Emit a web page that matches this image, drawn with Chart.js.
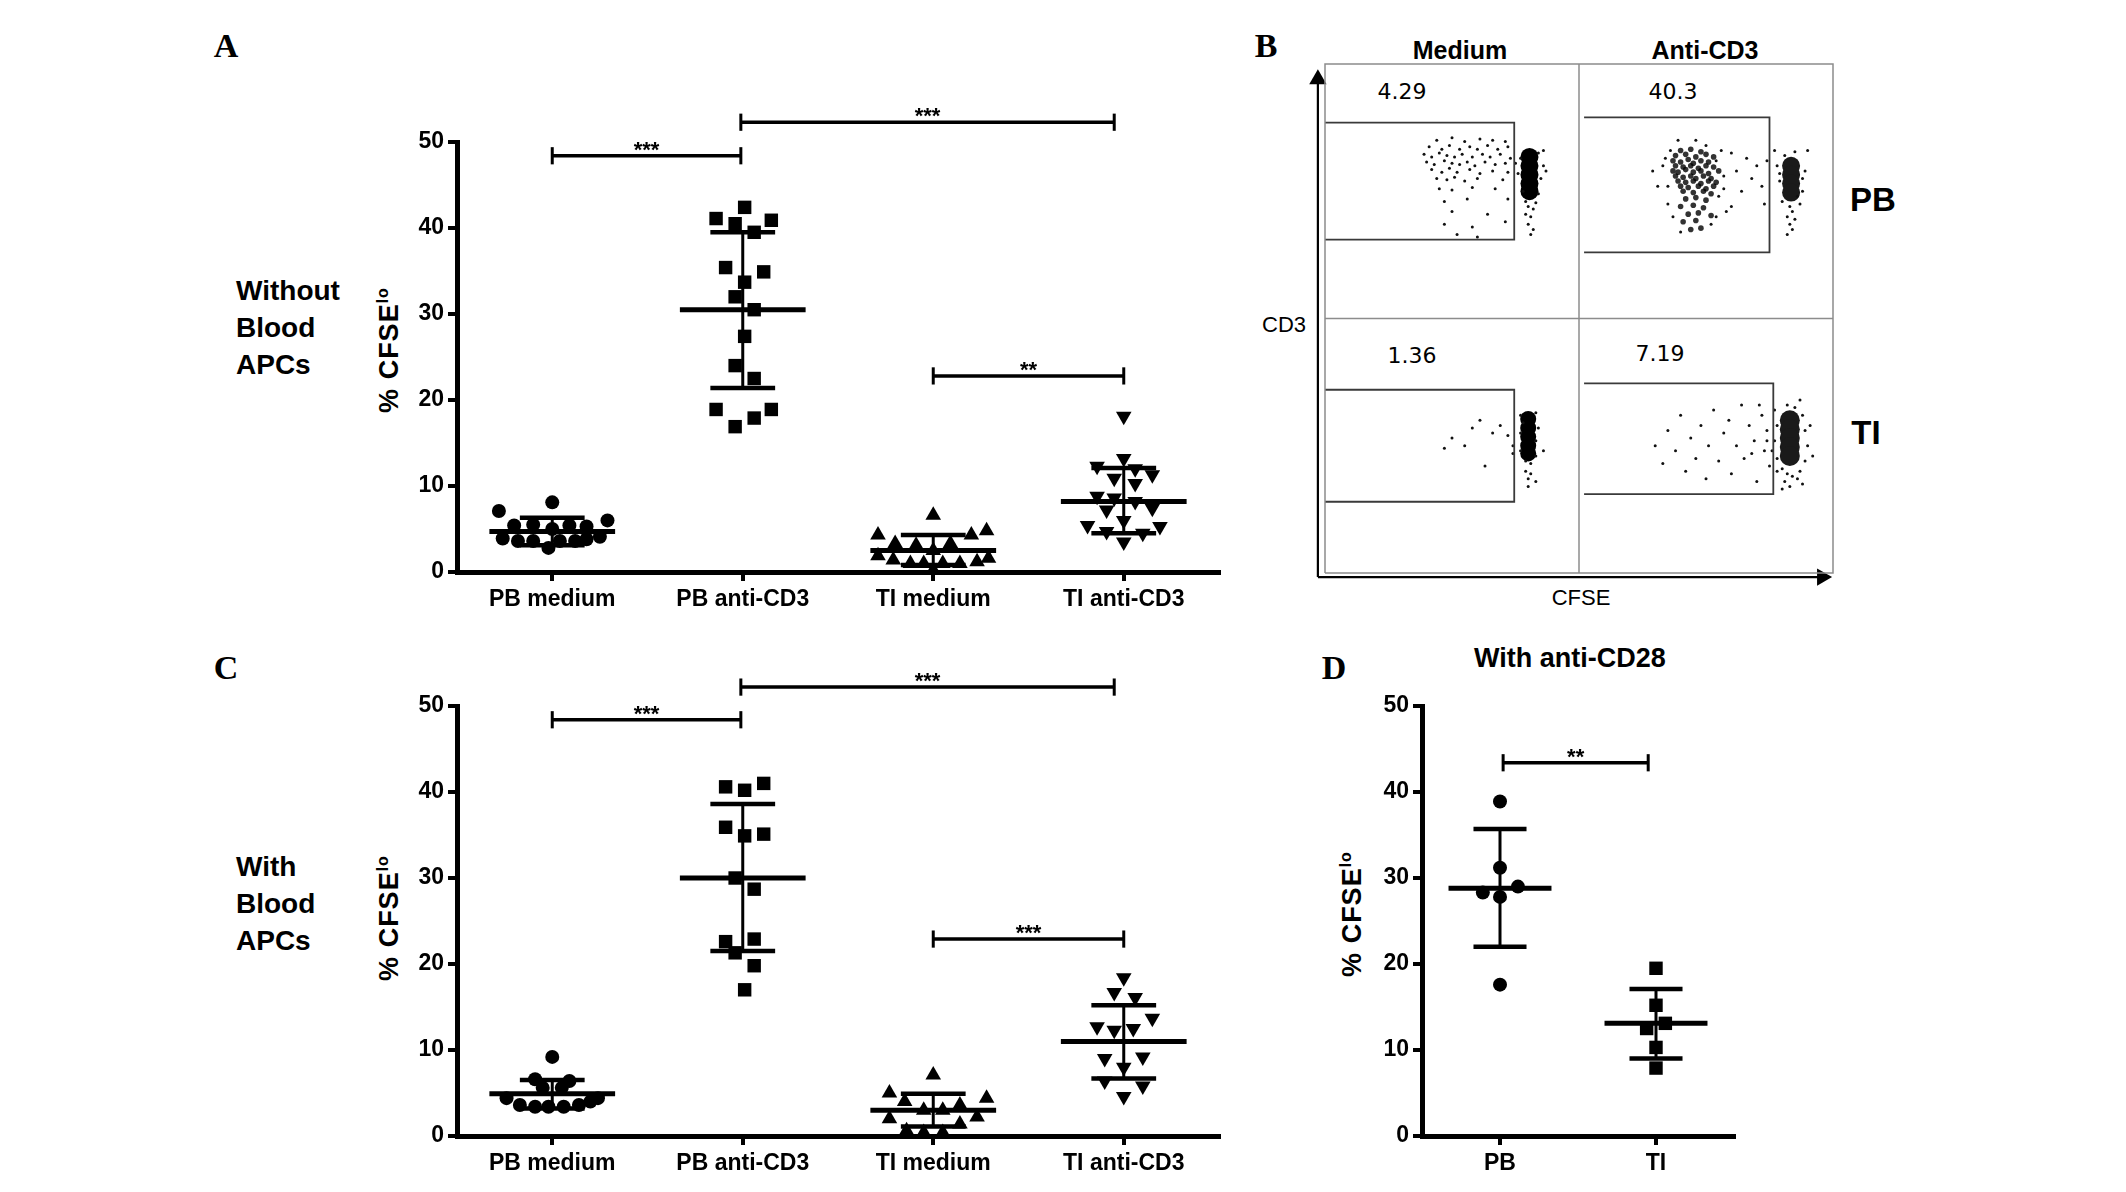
<!DOCTYPE html>
<html lang="en">
<head>
<meta charset="UTF-8">
<title>CFSE proliferation</title>
<script src="https://cdn.jsdelivr.net/npm/chart.js"></script>
<style>
  body { margin:0; width:2126px; height:1192px; overflow:hidden; background:#fff; position:relative;
         font-family:"Liberation Sans", Arial, sans-serif; color:#000; }
  canvas { position:absolute; }
  .t { position:absolute; transform:translate(-50%,-50%); white-space:nowrap; }
  .panel { font-family:"Liberation Serif", "Times New Roman", serif; font-weight:bold; font-size:34px; }
  .cond { position:absolute; font-weight:bold; font-size:28px; line-height:37px; }
  .ytitle { position:absolute; white-space:nowrap; font-weight:bold; font-size:27px; letter-spacing:1px;
            transform:translate(-50%,-50%) rotate(-90deg); }
  .ytitle sup { font-size:16px; }
  .head { font-weight:bold; font-size:25px; }
  .row { font-weight:bold; font-size:33px; }
  .flow { font-family:"DejaVu Sans", sans-serif; font-size:22px; }
  .axl { font-size:22px; }
</style>
</head>
<body>
<div class="t panel" style="left:226px;top:46px">A</div>
<div class="t panel" style="left:1266px;top:46px">B</div>
<div class="t panel" style="left:226px;top:668px">C</div>
<div class="t panel" style="left:1334px;top:668px">D</div>

<div class="cond" style="left:236px;top:272px">Without<br>Blood<br>APCs</div>
<div class="cond" style="left:236px;top:848px">With<br>Blood<br>APCs</div>

<div class="ytitle" style="left:389px;top:350px">% CFSE<sup>lo</sup></div>
<div class="ytitle" style="left:389px;top:918px">% CFSE<sup>lo</sup></div>
<div class="ytitle" style="left:1352px;top:914px">% CFSE<sup>lo</sup></div>

<div class="t head" style="left:1570px;top:658px;font-size:27px">With anti-CD28</div>

<div class="t head" style="left:1460px;top:50px">Medium</div>
<div class="t head" style="left:1705px;top:50px">Anti-CD3</div>
<div class="t row" style="left:1873px;top:200px">PB</div>
<div class="t row" style="left:1866px;top:433px">TI</div>
<div class="t axl" style="left:1284px;top:325px">CD3</div>
<div class="t axl" style="left:1581px;top:598px">CFSE</div>
<div class="t flow" style="left:1402px;top:91px">4.29</div>
<div class="t flow" style="left:1673px;top:91px">40.3</div>
<div class="t flow" style="left:1412px;top:355px">1.36</div>
<div class="t flow" style="left:1660px;top:353px">7.19</div>

<canvas id="cA" width="940" height="570" style="left:300px;top:60px"></canvas>
<canvas id="cC" width="940" height="570" style="left:300px;top:624px"></canvas>
<canvas id="cD" width="470" height="570" style="left:1300px;top:624px"></canvas>
<canvas id="cB" width="570" height="560" style="left:1300px;top:50px"></canvas>

<script>
  // ---- panel A / C categories ----
  const groups = ['PB medium', 'PB anti-CD3', 'TI medium', 'TI anti-CD3'];

  // panel A: without blood APCs
  const aValues = [
    [7.1, 8.1, 6.0, 5.4, 5.5, 5.0, 5.4, 5.3, 3.9, 3.6, 3.6, 2.8, 3.6, 3.6, 3.8, 4.1],
    [42.4, 41.1, 40.9, 40.5, 39.5, 35.4, 34.9, 33.7, 32.0, 30.5, 27.4, 24.0, 22.5, 18.9, 18.9, 17.9, 16.9],
    [6.6, 4.3, 4.8, 4.3, 3.3, 3.1, 3.3, 2.5, 1.9, 1.6, 1.4, 1.0, 1.0, 1.0, 1.0, 1.2, 0.2],
    [18.1, 13.2, 12.3, 12.0, 11.3, 10.9, 10.3, 8.8, 8.6, 8.2, 7.4, 7.2, 6.0, 5.4, 5.3, 4.7, 4.5, 3.5]
  ];
  const aJitter = [
    [-0.28, 0, 0.29, -0.2, -0.1, 0, 0.09, 0.18, -0.26, -0.18, -0.1, -0.02, 0.04, 0.12, 0.18, 0.25],
    [0.01, -0.14, 0.15, -0.04, 0.06, -0.09, 0.11, 0.01, -0.04, 0.06, 0.01, -0.04, 0.06, -0.14, 0.15, 0.06, -0.04],
    [0, -0.29, 0.28, 0.2, -0.2, -0.09, 0.09, 0, -0.29, 0.29, -0.21, -0.12, -0.05, 0.05, 0.14, 0.23, 0],
    [0, 0, -0.14, 0.06, 0.15, -0.05, 0.06, -0.14, -0.05, 0.06, 0.15, -0.09, 0, -0.19, 0.19, -0.09, 0.1, 0]
  ];
  const aMean = [4.7, 30.5, 2.5, 8.2];
  const aSdHigh = [6.3, 39.5, 4.3, 12.1];
  const aSdLow = [3.1, 21.4, 0.8, 4.5];
  const aBrackets = [[1.0, 1.99, 48.4, '***'], [1.99, 3.95, 52.3, '***'], [3.0, 4.0, 22.8, '**']];

  // panel C: with blood APCs
  const cValues = [
    [9.2, 6.6, 6.4, 5.6, 5.6, 4.4, 4.4, 3.6, 3.4, 3.4, 3.4, 3.6, 4.0],
    [41.0, 40.6, 40.2, 35.9, 34.9, 35.1, 30.0, 28.7, 22.6, 22.9, 21.3, 19.8, 17.0],
    [7.1, 5.0, 4.0, 4.4, 3.6, 3.0, 3.0, 2.0, 2.2, 1.4, 0.6, 0.4, 0.4],
    [18.4, 16.7, 16.1, 13.7, 12.7, 12.3, 12.5, 9.0, 9.2, 8.0, 6.4, 5.8, 4.6]
  ];
  const cJitter = [
    [0, -0.09, 0.09, -0.05, 0.05, -0.24, 0.24, -0.17, -0.09, -0.02, 0.06, 0.14, 0.2],
    [0.11, -0.09, 0.01, -0.09, 0.01, 0.11, -0.04, 0.06, -0.09, 0.06, -0.04, 0.06, 0.01],
    [0, -0.23, -0.15, 0.28, 0.14, 0.05, -0.05, -0.23, 0.23, 0.14, -0.14, -0.05, 0.05],
    [0, -0.05, 0.06, 0.15, -0.14, -0.05, 0.05, -0.1, 0.1, 0, -0.1, 0.1, 0]
  ];
  const cMean = [4.9, 30.0, 3.0, 11.0];
  const cSdHigh = [6.5, 38.6, 4.9, 15.2];
  const cSdLow = [3.2, 21.5, 1.1, 6.7];
  const cBrackets = [[1.0, 1.99, 48.4, '***'], [1.99, 3.95, 52.2, '***'], [3.0, 4.0, 22.9, '***']];

  // panel D: with anti-CD28
  const dGroups = ['PB', 'TI'];
  const dValues = [
    [38.9, 31.2, 28.3, 29.0, 27.8, 17.6],
    [19.5, 15.2, 13.1, 12.5, 10.3, 7.9]
  ];
  const dJitter = [
    [0, 0, -0.11, 0.115, 0, 0],
    [0, 0, 0.06, -0.06, 0, 0]
  ];
  const dMean = [28.8, 13.1];
  const dSdHigh = [35.7, 17.1];
  const dSdLow = [22.0, 9.0];
  const dBrackets = [[1.02, 1.95, 43.4, '**']];

  // ---- panel B: flow plots, [u, v] inside each quadrant (TL, TR, BL, BR) ----
  const bOrigins = [[0, 1], [1, 1], [0, 0], [1, 0]];
  const bGates = [[0, 0.745, 0.31, 0.77], [0.02, 0.75, 0.26, 0.79], [0, 0.745, 0.28, 0.72], [0.02, 0.765, 0.31, 0.745]];
  // solid cores of the undivided (CFSE high) populations
  const bDense = [
    [[0.805, 0.635], [0.805, 0.60], [0.805, 0.565], [0.805, 0.53], [0.805, 0.50]],
    [[0.835, 0.60], [0.835, 0.565], [0.835, 0.53], [0.835, 0.495]],
    [[0.80, 0.605], [0.80, 0.57], [0.80, 0.535], [0.80, 0.50], [0.80, 0.47]],
    [[0.83, 0.60], [0.83, 0.565], [0.83, 0.53], [0.83, 0.495], [0.83, 0.46]]
  ];
  // divided cells, dense grainy cloud (anti-CD3, PB)
  const bCloud = [
    [],
    [[0.40, 0.66], [0.44, 0.665], [0.48, 0.655], [0.38, 0.64], [0.42, 0.645], [0.46, 0.635], [0.50, 0.645], [0.53, 0.635],
     [0.37, 0.62], [0.40, 0.615], [0.43, 0.625], [0.45, 0.61], [0.48, 0.62], [0.51, 0.615], [0.38, 0.60], [0.41, 0.595],
     [0.44, 0.60], [0.47, 0.59], [0.50, 0.60], [0.53, 0.595], [0.37, 0.58], [0.39, 0.575], [0.42, 0.585], [0.45, 0.575],
     [0.48, 0.58], [0.51, 0.57], [0.55, 0.58], [0.38, 0.56], [0.41, 0.555], [0.44, 0.56], [0.46, 0.55], [0.49, 0.56],
     [0.52, 0.55], [0.39, 0.54], [0.42, 0.535], [0.45, 0.54], [0.48, 0.53], [0.51, 0.54], [0.54, 0.535], [0.40, 0.52],
     [0.43, 0.515], [0.47, 0.52], [0.50, 0.51], [0.53, 0.52], [0.41, 0.50], [0.45, 0.495], [0.49, 0.50], [0.52, 0.49],
     [0.42, 0.47], [0.46, 0.475], [0.50, 0.465], [0.40, 0.44], [0.45, 0.445], [0.49, 0.435], [0.43, 0.41], [0.47, 0.415],
     [0.52, 0.405], [0.41, 0.38], [0.46, 0.385], [0.44, 0.35], [0.48, 0.355]],
    [],
    []
  ];
  // scattered single events
  const bSpeckles = [
    [[0.44, 0.70], [0.50, 0.71], [0.55, 0.695], [0.61, 0.705], [0.66, 0.70], [0.71, 0.695], [0.41, 0.675], [0.46, 0.665],
     [0.49, 0.68], [0.53, 0.665], [0.57, 0.675], [0.60, 0.665], [0.64, 0.68], [0.68, 0.665], [0.72, 0.675], [0.39, 0.645],
     [0.42, 0.635], [0.45, 0.65], [0.48, 0.64], [0.51, 0.635], [0.54, 0.645], [0.58, 0.635], [0.62, 0.645], [0.65, 0.635],
     [0.69, 0.645], [0.73, 0.63], [0.40, 0.615], [0.43, 0.605], [0.47, 0.62], [0.50, 0.61], [0.53, 0.605], [0.56, 0.615],
     [0.59, 0.60], [0.63, 0.615], [0.67, 0.605], [0.71, 0.61], [0.42, 0.585], [0.46, 0.575], [0.49, 0.59], [0.52, 0.575],
     [0.57, 0.585], [0.61, 0.57], [0.66, 0.58], [0.72, 0.575], [0.44, 0.55], [0.48, 0.545], [0.51, 0.555], [0.55, 0.54],
     [0.60, 0.55], [0.70, 0.545], [0.45, 0.51], [0.50, 0.505], [0.58, 0.515], [0.67, 0.51], [0.47, 0.46], [0.56, 0.47],
     [0.72, 0.47], [0.50, 0.42], [0.64, 0.41], [0.47, 0.37], [0.58, 0.36], [0.71, 0.38], [0.52, 0.33], [0.60, 0.32],
     [0.77, 0.63], [0.84, 0.65], [0.86, 0.60], [0.76, 0.57], [0.85, 0.55], [0.78, 0.50], [0.84, 0.49], [0.79, 0.46],
     [0.83, 0.455], [0.80, 0.44], [0.82, 0.43], [0.79, 0.41], [0.81, 0.40], [0.80, 0.37], [0.82, 0.35], [0.81, 0.33],
     [0.87, 0.58], [0.75, 0.61], [0.86, 0.66]],
    [[0.33, 0.60], [0.35, 0.52], [0.36, 0.66], [0.35, 0.45], [0.39, 0.70], [0.37, 0.40], [0.40, 0.34], [0.46, 0.70],
     [0.50, 0.68], [0.52, 0.37], [0.54, 0.62], [0.55, 0.48], [0.57, 0.56], [0.58, 0.42], [0.60, 0.65], [0.56, 0.66],
     [0.62, 0.58], [0.64, 0.50], [0.66, 0.63], [0.68, 0.55], [0.70, 0.60], [0.72, 0.52], [0.74, 0.62], [0.73, 0.45],
     [0.29, 0.58], [0.57, 0.51], [0.60, 0.44], [0.31, 0.52], [0.54, 0.40], [0.34, 0.63],
     [0.78, 0.60], [0.89, 0.58], [0.88, 0.50], [0.79, 0.54], [0.80, 0.46], [0.87, 0.45], [0.83, 0.44], [0.84, 0.42],
     [0.82, 0.40], [0.85, 0.39], [0.83, 0.37], [0.84, 0.35], [0.82, 0.33], [0.90, 0.66], [0.77, 0.66], [0.85, 0.655],
     [0.81, 0.64], [0.79, 0.57], [0.88, 0.55], [0.86, 0.48]],
    [[0.47, 0.49], [0.50, 0.53], [0.55, 0.50], [0.58, 0.57], [0.63, 0.42], [0.66, 0.55], [0.69, 0.58], [0.72, 0.54],
     [0.74, 0.50], [0.74, 0.47], [0.61, 0.60], [0.77, 0.62], [0.83, 0.63], [0.84, 0.57], [0.77, 0.55], [0.83, 0.52],
     [0.77, 0.48], [0.83, 0.46], [0.79, 0.44], [0.81, 0.43], [0.79, 0.40], [0.81, 0.39], [0.80, 0.37], [0.83, 0.36],
     [0.80, 0.34], [0.86, 0.48], [0.78, 0.59]],
    [[0.30, 0.50], [0.33, 0.43], [0.35, 0.56], [0.38, 0.48], [0.40, 0.62], [0.42, 0.40], [0.44, 0.53], [0.46, 0.45],
     [0.48, 0.58], [0.50, 0.37], [0.51, 0.50], [0.53, 0.64], [0.55, 0.44], [0.57, 0.55], [0.59, 0.60], [0.60, 0.39],
     [0.62, 0.50], [0.64, 0.66], [0.65, 0.45], [0.67, 0.58], [0.69, 0.52], [0.70, 0.36], [0.72, 0.62], [0.73, 0.48],
     [0.74, 0.56], [0.75, 0.42], [0.71, 0.66], [0.68, 0.47], [0.74, 0.52],
     [0.77, 0.64], [0.78, 0.58], [0.77, 0.52], [0.78, 0.45], [0.78, 0.40], [0.88, 0.62], [0.89, 0.56], [0.90, 0.50],
     [0.89, 0.44], [0.87, 0.40], [0.86, 0.37], [0.80, 0.41], [0.82, 0.39], [0.84, 0.38], [0.81, 0.36], [0.83, 0.34],
     [0.80, 0.33], [0.91, 0.58], [0.76, 0.48], [0.87, 0.68], [0.82, 0.66], [0.85, 0.65], [0.88, 0.35], [0.92, 0.46]]
  ];

  const markers = [
    { shape: 'circle', r: 7, rot: 0 },
    { shape: 'rect', r: 9.5, rot: 0 },
    { shape: 'triangle', r: 9, rot: 0 },
    { shape: 'triangle', r: 9, rot: 180 }
  ];
  const dMarkers = [markers[0], markers[1]];
  const tickFont = { family: 'Liberation Sans', weight: 'bold', size: 23 };

  function seg(x1, y1, x2, y2, w, color) {
    return {
      data: [{ x: x1, y: y1 }, { x: x2, y: y2 }],
      showLine: true, borderColor: color || '#000', borderWidth: w,
      pointRadius: 0, clip: false, order: 1
    };
  }

  function dotDatasets(values, jitter, mean, hi, lo, brackets, marks) {
    const sets = [];
    values.forEach((vals, i) => {
      const c = i + 1;
      const m = marks[i];
      sets.push({
        data: vals.map((v, j) => ({ x: c + jitter[i][j], y: v })),
        pointStyle: m.shape, pointRadius: m.r, pointRotation: m.rot,
        backgroundColor: '#000', borderColor: '#000', borderWidth: 0, clip: false, order: 2
      });
      sets.push(seg(c - 0.33, mean[i], c + 0.33, mean[i], 5));
      sets.push(seg(c, lo[i], c, hi[i], 3));
      sets.push(seg(c - 0.17, hi[i], c + 0.17, hi[i], 4.5));
      sets.push(seg(c - 0.17, lo[i], c + 0.17, lo[i], 4.5));
    });
    brackets.forEach(b => {
      sets.push(seg(b[0], b[2], b[1], b[2], 3.5));
      sets.push(seg(b[0], b[2] - 1, b[0], b[2] + 1, 3));
      sets.push(seg(b[1], b[2] - 1, b[1], b[2] + 1, 3));
    });
    return sets;
  }

  function starPlugin(brackets) {
    return {
      id: 'stars',
      afterDatasetsDraw(chart) {
        const ctx = chart.ctx;
        const xs = chart.scales.x, ys = chart.scales.y;
        ctx.save();
        ctx.fillStyle = '#000';
        ctx.font = 'bold 22px "Liberation Sans"';
        ctx.textAlign = 'center';
        ctx.textBaseline = 'alphabetic';
        brackets.forEach(b => {
          ctx.fillText(b[3], xs.getPixelForValue((b[0] + b[1]) / 2), ys.getPixelForValue(b[2]) + 1);
        });
        ctx.restore();
      }
    };
  }

  function dotChart(id, cats, datasets, brackets, yWidth, padRight) {
    return new Chart(document.getElementById(id), {
      type: 'scatter',
      data: { datasets: datasets },
      options: {
        responsive: false,
        animation: false,
        devicePixelRatio: 1,
        layout: { padding: { left: 0, right: padRight, top: 82, bottom: 6 } },
        plugins: { legend: { display: false }, tooltip: { enabled: false } },
        scales: {
          x: {
            type: 'linear', min: 0.5, max: cats.length + 0.5,
            afterBuildTicks: s => { s.ticks = cats.map((c, i) => ({ value: i + 1 })); },
            afterFit: s => { s.height = 52; },
            ticks: { callback: v => cats[v - 1], color: '#000', font: tickFont, padding: 5, autoSkip: false, maxRotation: 0 },
            grid: { drawOnChartArea: false, drawTicks: true, tickLength: 9, color: '#000', lineWidth: 4 },
            border: { display: true, color: '#000', width: 5 }
          },
          y: {
            min: 0, max: 50,
            afterFit: s => { s.width = yWidth; },
            ticks: { stepSize: 10, color: '#000', font: tickFont, padding: 4 },
            grid: { drawOnChartArea: false, drawTicks: true, tickLength: 9, color: '#000', lineWidth: 4 },
            border: { display: true, color: '#000', width: 5 }
          }
        }
      },
      plugins: [starPlugin(brackets)]
    });
  }

  dotChart('cA', groups, dotDatasets(aValues, aJitter, aMean, aSdHigh, aSdLow, aBrackets, markers), aBrackets, 157, 21);
  dotChart('cC', groups, dotDatasets(cValues, cJitter, cMean, cSdHigh, cSdLow, cBrackets, markers), cBrackets, 157, 21);
  dotChart('cD', dGroups, dotDatasets(dValues, dJitter, dMean, dSdHigh, dSdLow, dBrackets, dMarkers), dBrackets, 122, 36);

  // ---- panel B ----
  const bSets = [];
  const shift = (pts, q) => pts.map(p => ({ x: bOrigins[q][0] + p[0], y: bOrigins[q][1] + p[1] }));
  const frameGray = '#8c8c8c';
  const dot = (data, r, color) => ({ data: data, pointRadius: r, backgroundColor: color, borderWidth: 0, clip: false });
  // outer frame and quadrant dividers
  bSets.push({ data: [{ x: 0, y: 0 }, { x: 2, y: 0 }, { x: 2, y: 2 }, { x: 0, y: 2 }, { x: 0, y: 0 }],
    showLine: true, borderColor: frameGray, borderWidth: 1.5, pointRadius: 0, clip: false });
  bSets.push(seg(1, 0, 1, 2, 1.5, frameGray));
  bSets.push(seg(0, 1, 2, 1, 1.5, frameGray));
  bGates.forEach((g, q) => {
    bSets.push({ data: shift([[g[0], g[2]], [g[1], g[2]], [g[1], g[3]], [g[0], g[3]]], q),
      showLine: true, borderColor: '#3a3a3a', borderWidth: 1.8, pointRadius: 0, clip: false });
  });
  bCloud.forEach((pts, q) => { if (pts.length) bSets.push(dot(shift(pts, q), 2.8, 'rgba(0,0,0,0.8)')); });
  bSpeckles.forEach((pts, q) => { bSets.push(dot(shift(pts, q), 1.5, '#111')); });
  bDense.forEach((pts, q) => {
    const r = q === 3 ? 10 : (q === 2 ? 8 : 9);
    bSets.push(dot(shift(pts, q), r, q === 1 || q === 3 ? '#1a1a1a' : '#000'));
  });
  // axis arrows
  bSets.push(seg(-0.028, -0.016, -0.028, 1.94, 2.2));
  bSets.push(seg(-0.028, -0.016, 1.957, -0.016, 2.2));
  bSets.push({ data: [{ x: -0.028, y: 1.94 }], pointStyle: 'triangle', pointRadius: 10, backgroundColor: '#000', borderWidth: 0, clip: false });
  bSets.push({ data: [{ x: 1.957, y: -0.016 }], pointStyle: 'triangle', pointRotation: 90, pointRadius: 10, backgroundColor: '#000', borderWidth: 0, clip: false });

  new Chart(document.getElementById('cB'), {
    type: 'scatter',
    data: { datasets: bSets },
    options: {
      responsive: false,
      animation: false,
      devicePixelRatio: 1,
      layout: { padding: { left: 25, right: 37, top: 14, bottom: 37 } },
      plugins: { legend: { display: false }, tooltip: { enabled: false } },
      scales: {
        x: { type: 'linear', min: 0, max: 2, display: false },
        y: { type: 'linear', min: 0, max: 2, display: false }
      }
    }
  });
</script>
</body>
</html>
